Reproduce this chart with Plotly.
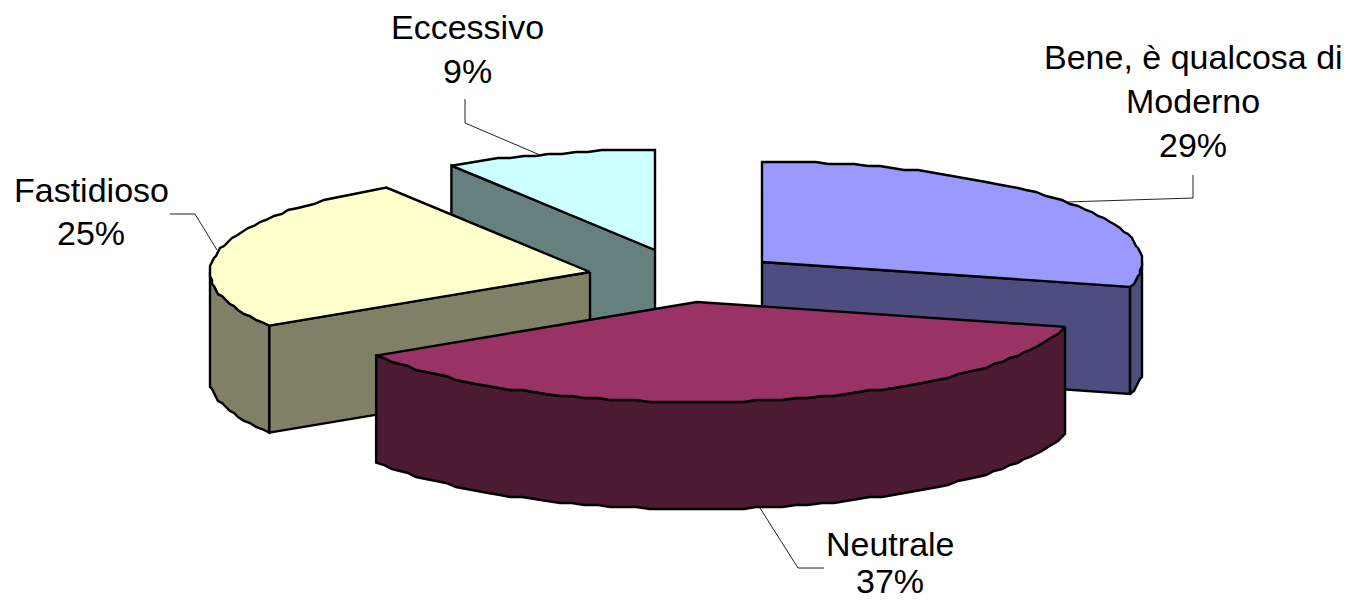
import math
import plotly.graph_objects as go

# Survey shares, clockwise from twelve o'clock
categories = ["Bene, è qualcosa di Moderno", "Neutrale", "Fastidioso", "Eccessivo"]
shares = [29, 37, 25, 9]
top_colors = ["#9999FF", "#993366", "#FFFFCC", "#CCFFFF"]
side_colors = ["#4D4D80", "#4D1A33", "#808066", "#668080"]
label_lines = [["Bene, è qualcosa di", "Moderno"], ["Neutrale"], ["Fastidioso"], ["Eccessivo"]]

# Projection of the disc on the page
RX, RY, DEPTH = 380, 100, 107
SNAP = 2
STEP_DEG = 2.0
hubs = {"Eccessivo": (655, 250), "Bene, è qualcosa di Moderno": (762, 262),
        "Fastidioso": (590, 272), "Neutrale": (697, 302)}
paint_order = ["Eccessivo", "Bene, è qualcosa di Moderno", "Fastidioso", "Neutrale"]

# Leader lines and label anchors for each slice
leaders = {
    "Bene, è qualcosa di Moderno": ([1193, 1193, 1066], [175, 198, 202]),
    "Neutrale": ([824, 798, 760], [568, 568, 508]),
    "Fastidioso": ([170, 195, 217], [214, 214, 250]),
    "Eccessivo": ([465, 465, 540], [99, 123, 155]),
}
label_spots = {
    "Bene, è qualcosa di Moderno": (1193, [57, 101, 145]),
    "Neutrale": (890, [544, 581]),
    "Fastidioso": (91, [190, 233]),
    "Eccessivo": (467, [27, 71]),
}


def rim(hub, t_from, t_to, dy=0):
    """Points along the elliptical rim, nudged to a coarse grid for the hand-cut edge."""
    n = max(2, int(abs(t_to - t_from) / STEP_DEG))
    pts = []
    for i in range(n + 1):
        a = math.radians(t_from + (t_to - t_from) * i / n)
        x = hub[0] + RX * math.cos(a)
        y = hub[1] + RY * math.sin(a)
        if 0 < i < n:
            x, y = round(x / SNAP) * SNAP, round(y / SNAP) * SNAP
        pts.append((x, y + dy))
    return pts


def polygon(pts, color, width=2.4):
    xs = [p[0] for p in pts] + [pts[0][0]]
    ys = [p[1] for p in pts] + [pts[0][1]]
    return go.Scatter(x=xs, y=ys, mode="lines", fill="toself", fillcolor=color,
                      line=dict(color="black", width=width, shape="linear"),
                      hoverinfo="skip", showlegend=False)


# Turn shares into rim angles; 270 degrees points up on the page
spans = {}
angle = 270.0
for name, share in zip(categories, shares):
    spans[name] = (angle, angle + share * 3.6)
    angle += share * 3.6

fig = go.Figure()
for name in paint_order:
    idx = categories.index(name)
    hub = hubs[name]
    t0, t1 = spans[name]

    # Radial cut faces that turn toward the viewer
    for t, sign in ((t0, -1), (t1, 1)):
        c = math.cos(math.radians(t))
        if sign * c > 1e-3:
            a = math.radians(t)
            edge = (hub[0] + RX * math.cos(a), hub[1] + RY * math.sin(a))
            face = [hub, edge, (edge[0], edge[1] + DEPTH), (hub[0], hub[1] + DEPTH)]
            fig.add_trace(polygon(face, side_colors[idx]))

    # Outer wall: the stretch of rim on the near half of the ellipse
    for k in (0, 1):
        lo, hi = max(t0, 360 * k), min(t1, 360 * k + 180)
        if hi > lo:
            wall = rim(hub, lo, hi) + rim(hub, hi, lo, DEPTH)
            fig.add_trace(polygon(wall, side_colors[idx]))

    # Top face
    fig.add_trace(polygon([hub] + rim(hub, t0, t1), top_colors[idx]))

annotations = []
for name, share, lines in zip(categories, shares, label_lines):
    xs, ys = leaders[name]
    fig.add_trace(go.Scatter(x=xs, y=ys, mode="lines", line=dict(color="#222222", width=1),
                             hoverinfo="skip", showlegend=False))
    cx, rows = label_spots[name]
    for text, y in zip(lines + [f"{share}%"], rows):
        annotations.append(dict(x=cx, y=y, text=text, showarrow=False, xanchor="center",
                                yanchor="middle", font=dict(family="Liberation Sans", size=34, color="black")))

fig.update_layout(
    width=1346, height=602, margin=dict(l=0, r=0, t=0, b=0),
    paper_bgcolor="white", plot_bgcolor="white", showlegend=False,
    xaxis=dict(range=[0, 1346], visible=False, fixedrange=True),
    yaxis=dict(range=[602, 0], visible=False, fixedrange=True),
    annotations=annotations,
)
fig.write_html("out.html", config={"displayModeBar": False})
